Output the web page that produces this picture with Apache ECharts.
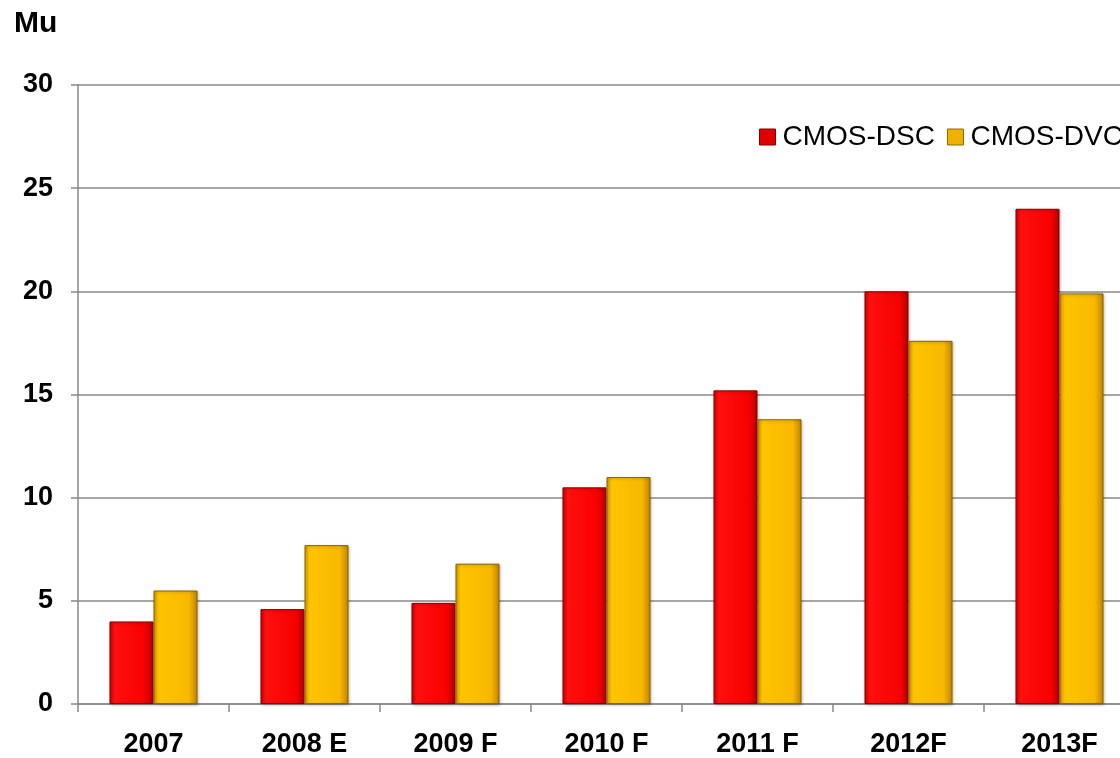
<!DOCTYPE html>
<html><head><meta charset="utf-8">
<script src="https://cdn.jsdelivr.net/npm/echarts@6/dist/echarts.min.js"></script>
<style>html,body{margin:0;padding:0;background:#fff;overflow:hidden;width:1120px;height:758px}#c{width:1135px;height:758px}</style>
</head><body><div id="c"></div>
<script>
const categories = ['2007', '2008 E', '2009 F', '2010 F', '2011 F', '2012F', '2013F'];
const dscValues = [4.0, 4.6, 4.9, 10.5, 15.2, 20.0, 24.0];
const dvcValues = [5.5, 7.7, 6.8, 11.0, 13.8, 17.6, 19.9];
const seriesNames = ['CMOS-DSC', 'CMOS-DVC'];
const yTicks = [0, 5, 10, 15, 20, 25, 30];

const G = echarts.graphic;
const redFill = new G.LinearGradient(0, 0, 1, 0, [
  {offset: 0, color: '#d40000'}, {offset: 0.12, color: '#ff1010'},
  {offset: 0.8, color: '#f80000'}, {offset: 1, color: '#b00000'}]);
const goldFill = new G.LinearGradient(0, 0, 1, 0, [
  {offset: 0, color: '#d99a00'}, {offset: 0.12, color: '#ffc400'},
  {offset: 0.8, color: '#f8b800'}, {offset: 1, color: '#c08400'}]);
const FONT = 'Liberation Sans, Arial, sans-serif';

const chart = echarts.init(document.getElementById('c'), null, {renderer: 'canvas'});
chart.setOption({
  animation: false,
  backgroundColor: '#fff',
  textStyle: {fontFamily: FONT},
  graphic: [{type: 'text', left: 14, top: 9, style: {text: 'Mu', font: 'bold 30px ' + FONT, fill: '#000'}}],
  legend: {
    orient: 'horizontal', left: 754, top: 118, width: 600, itemWidth: 16, itemHeight: 16, itemGap: 12,
    textStyle: {fontSize: 28, color: '#000', fontFamily: FONT, padding: [0, 0, 0, 2]},
    data: [
      {name: seriesNames[0], icon: 'rect', itemStyle: {color: '#e00000', borderColor: '#800000', borderWidth: 1}},
      {name: seriesNames[1], icon: 'rect', itemStyle: {color: '#f0b000', borderColor: '#8a6a00', borderWidth: 1}}
    ]
  },
  grid: {left: 78, top: 85, right: 0, height: 619},
  xAxis: {
    type: 'category', data: categories,
    axisLine: {lineStyle: {color: '#888', width: 1.5}},
    axisTick: {show: true, length: 8, lineStyle: {color: '#888', width: 1.5}},
    axisLabel: {fontSize: 27, fontWeight: 'bold', color: '#000', margin: 27, fontFamily: FONT}
  },
  yAxis: {
    type: 'value', min: yTicks[0], max: yTicks[yTicks.length - 1], interval: 5,
    axisLine: {show: true, lineStyle: {color: '#888', width: 1.5}},
    axisTick: {show: true, length: 7, lineStyle: {color: '#888', width: 1.5}},
    splitLine: {lineStyle: {color: '#888', width: 1.5}},
    axisLabel: {fontSize: 27, fontWeight: 'bold', color: '#000', margin: 25, fontFamily: FONT}
  },
  series: [
    {name: seriesNames[0], type: 'bar', data: dscValues, barGap: '0%', barCategoryGap: '41.7%',
     itemStyle: {color: redFill, borderColor: '#8a0000', borderWidth: 1,
       shadowColor: 'rgba(0,0,0,0.25)', shadowBlur: 3, shadowOffsetX: 1, shadowOffsetY: 1}},
    {name: seriesNames[1], type: 'bar', data: dvcValues,
     itemStyle: {color: goldFill, borderColor: '#8a6400', borderWidth: 1,
       shadowColor: 'rgba(0,0,0,0.25)', shadowBlur: 3, shadowOffsetX: 1, shadowOffsetY: 1}}
  ]
});
</script></body></html>
